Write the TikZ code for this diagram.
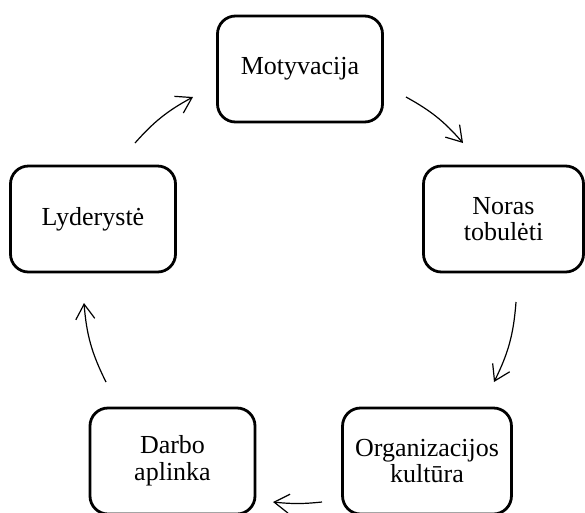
\documentclass[tikz,border=0pt]{standalone}
\usepackage{fontspec}
\setmainfont{Liberation Serif}
\usetikzlibrary{arrows.meta}
\begin{document}
\begin{tikzpicture}[x=1pt,y=-1pt,
  stage/.style={draw, line width=2.8pt, rounded corners=18pt,
    minimum width=165pt, minimum height=106pt, inner xsep=12.5pt,
    align=center, font=\fontsize{26}{26.7}\selectfont},
  flow/.style={line width=1.2pt,
    -{Straight Barb[length=15pt,width=19pt,line width=1.2pt]}}]
  % canvas
  \fill[white] (0,0) rectangle (585,512);
  \useasboundingbox (0,0) rectangle (585,512);

  % stages of the cycle
  \node[stage] (mot) at (300,69) {Motyvacija};
  \node[stage, minimum width=160pt] (nor) at (503.5,219) {Noras\\tobulėti};
  \node[stage] (lyd) at (93,219) {Lyderystė};
  \node[stage] (dar) at (172.5,461) {Darbo\\aplinka};
  \node[stage] (org) at (427,461) {Organizacijos\\kultūra};

  % arrow end points on the circle around the cycle
  \coordinate (a1s) at (406,97);  \coordinate (a1e) at (463,143);
  \coordinate (a2s) at (516,302); \coordinate (a2e) at (494,382);
  \coordinate (a3s) at (322,502); \coordinate (a3e) at (273,502);
  \coordinate (a4s) at (106,382); \coordinate (a4e) at (84,303);
  \coordinate (a5s) at (135,143); \coordinate (a5e) at (193,97);

  % clockwise arrows
  \draw[flow] (a1s) to[bend left=10] (a1e);
  \draw[flow] (a2s) to[bend left=11] (a2e);
  \draw[flow] (a3s) to[bend left=6] (a3e);
  \draw[flow] (a4s) to[bend left=11] (a4e);
  \draw[flow] (a5s) to[bend left=10] (a5e);
\end{tikzpicture}
\end{document}
